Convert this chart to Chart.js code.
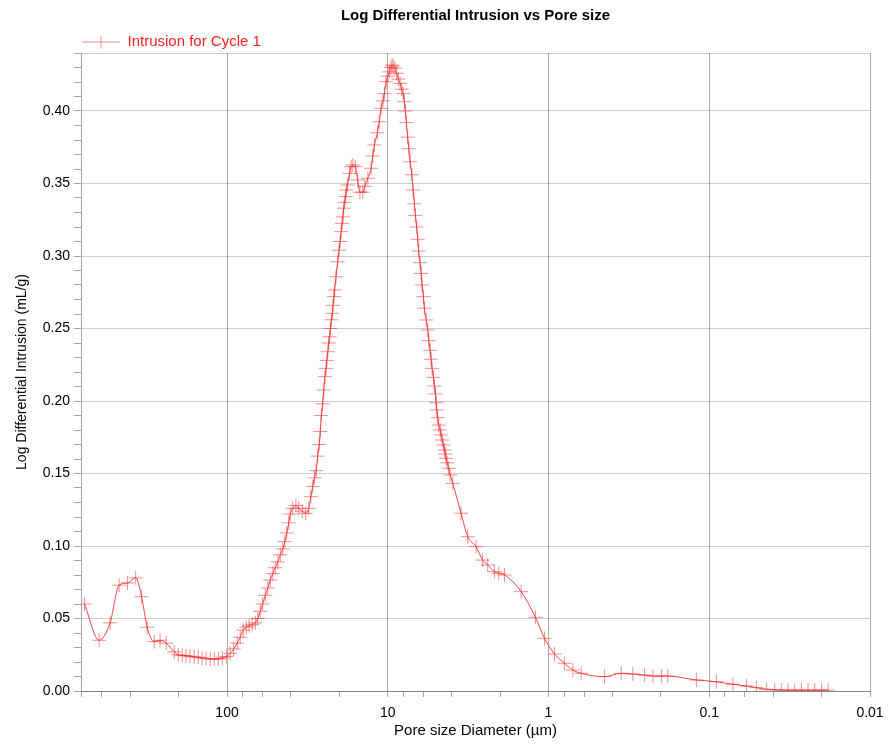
<!DOCTYPE html>
<html>
<head>
<meta charset="utf-8">
<script src="https://cdn.jsdelivr.net/npm/chart.js@4.4.1/dist/chart.umd.min.js"></script>
<style>
  html, body { margin: 0; padding: 0; background: #fff; }
  #wrap { width: 889px; height: 744px; }
</style>
</head>
<body>
<div id="wrap"><canvas id="chart"></canvas></div>
<script>
// pore size diameter (um), largest first
const poreDiameter = [
  770, 625, 534, 469, 416, 370, 340, 314, 284, 261, 239, 213, 201, 190, 180, 170, 160, 151, 143, 135,
  127, 120, 113, 107, 101, 95.5, 90.9, 86.4, 82.8, 79.3, 75.9, 72.8, 69.7, 66.7, 64.4, 62.1, 60.0, 57.8, 55.8, 53.8,
  51.9, 50.1, 48.3, 46.6, 45.0, 43.7, 42.5, 41.3, 40.4, 39.0, 37.3, 35.8, 34.0, 32.4, 31.0, 30.1, 29.3, 28.6, 27.9, 27.3,
  26.7, 26.3, 25.9, 25.4, 25.0, 24.6, 24.2, 23.9, 23.6, 23.3, 23.0, 22.7, 22.45, 22.1, 21.9, 21.65, 21.4, 21.0, 20.5, 20.1,
  19.8, 19.5, 19.25, 19.0, 18.8, 18.55, 18.3, 18.1, 17.8, 17.3, 16.9, 16.5, 15.9, 15.4, 14.9, 14.3, 13.9, 13.3, 12.7, 12.4,
  12.1, 11.6, 11.3, 11.0, 10.7, 10.5, 10.25, 9.99, 9.77, 9.56, 9.40, 9.23, 9.03, 8.80, 8.59, 8.38, 8.19, 8.03, 7.88, 7.77,
  7.66, 7.52, 7.39, 7.26, 7.08, 6.96, 6.83, 6.73, 6.61, 6.51, 6.42, 6.30, 6.20, 6.12, 6.00, 5.92, 5.77, 5.64, 5.56, 5.45,
  5.38, 5.30, 5.20, 5.13, 5.05, 5.00, 4.96, 4.89, 4.82, 4.72, 4.66, 4.59, 4.51, 4.44, 4.38, 4.34, 4.27, 4.18, 4.09, 3.94,
  3.50, 3.18, 2.82, 2.57, 2.39, 2.17, 2.04, 1.88, 1.48, 1.205, 1.059, 0.918, 0.795, 0.706, 0.626, 0.448, 0.353, 0.299, 0.2525, 0.224,
  0.1987, 0.181, 0.1203, 0.0903, 0.0712, 0.0587, 0.0509, 0.0441, 0.0392, 0.0356, 0.0324, 0.0294, 0.0267, 0.0243, 0.0221, 0.0200, 0.0182
]

// log differential intrusion (mL/g)
const logDiffIntrusion = [
  0.060, 0.035, 0.047, 0.073, 0.0745, 0.078, 0.065, 0.044, 0.034, 0.035, 0.033, 0.027, 0.025, 0.0245, 0.0242, 0.024, 0.0236, 0.0232, 0.0228, 0.0224,
  0.0221, 0.022, 0.0222, 0.0228, 0.0238, 0.026, 0.029, 0.033, 0.037, 0.042, 0.044, 0.045, 0.046, 0.047, 0.050, 0.055, 0.060, 0.066, 0.071, 0.0765,
  0.081, 0.085, 0.089, 0.094, 0.098, 0.103, 0.109, 0.116, 0.122, 0.126, 0.128, 0.126, 0.124, 0.1225, 0.126, 0.134, 0.141, 0.147, 0.152, 0.162,
  0.170, 0.179, 0.190, 0.198, 0.2076, 0.2168, 0.2225, 0.228, 0.234, 0.240, 0.2443, 0.250, 0.256, 0.2605, 0.266, 0.272, 0.2766, 0.2857, 0.296, 0.304,
  0.310, 0.3168, 0.3225, 0.327, 0.333, 0.337, 0.341, 0.3455, 0.349, 0.357, 0.3616, 0.3628, 0.3616, 0.3524, 0.344, 0.344, 0.348, 0.3536, 0.3605, 0.369,
  0.3766, 0.385, 0.3926, 0.4018, 0.407, 0.412, 0.4202, 0.424, 0.427, 0.430, 0.4317, 0.431, 0.4294, 0.426, 0.422, 0.419, 0.415, 0.412, 0.4064, 0.400,
  0.392, 0.382, 0.374, 0.365, 0.356, 0.3455, 0.336, 0.328, 0.320, 0.3115, 0.3034, 0.2954, 0.288, 0.280, 0.272, 0.264, 0.2559, 0.249, 0.2416, 0.235,
  0.2288, 0.2225, 0.2163, 0.2103, 0.2048, 0.1988, 0.1938, 0.1885, 0.1834, 0.180, 0.1766, 0.1731, 0.1697, 0.1662, 0.1634, 0.1605, 0.1574, 0.1536, 0.149, 0.1432,
  0.1226, 0.1064, 0.0995, 0.0903, 0.0869, 0.0823, 0.0812, 0.080, 0.0685, 0.0508, 0.0363, 0.0255, 0.0191, 0.0145, 0.0122, 0.0099, 0.0122, 0.0117, 0.011, 0.0103,
  0.0103, 0.0103, 0.0076, 0.0064, 0.0046, 0.0034, 0.0023, 0.0012, 0.0008, 0.0007, 0.0006, 0.0006, 0.0006, 0.0006, 0.0006, 0.0006, 0.0006
]

// x axis: labelled decades plus minor ticks at 2, 4, 6, 8
const xMajorTicks = [100, 10, 1, 0.1, 0.01]
const xMajorLabels = ['100', '10', '1', '0.1', '0.01']
const xMinorTicks = [
  0.02, 0.04, 0.06, 0.08, 0.2, 0.4, 0.6, 0.8, 2, 4, 6, 8,
  20, 40, 60, 80, 200, 400, 600, 800
]
const xMin = 0.01, xMax = 810
const yMax = 0.44, yStep = 0.01

Chart.defaults.font.family = '"Liberation Sans", Arial, sans-serif'
Chart.defaults.color = '#000'

const lineRed = 'rgba(238, 40, 40, 0.85)'
const crossRed = 'rgba(240, 50, 50, 0.55)'
const xGrid = 'rgba(0, 0, 0, 0.32)'
const yGrid = 'rgba(0, 0, 0, 0.2)'
const tickGrey = 'rgba(0, 0, 0, 0.35)'

const isMajorX = (v) => xMajorTicks.some(m => Math.abs(v / m - 1) < 1e-6)
const isMajorY = (v) => Math.round(v * 100) % 5 === 0 || Math.abs(v - yMax) < 1e-6

const points = poreDiameter.map((d, i) => ({ x: d, y: logDiffIntrusion[i] }))

const config = {
  type: 'line',
  data: {
    datasets: [{
      label: 'Intrusion for Cycle 1',
      data: points,
      borderColor: lineRed,
      borderWidth: 1,
      pointStyle: 'cross',
      pointRadius: 7,
      pointBorderColor: crossRed,
      pointBorderWidth: 1,
      pointBackgroundColor: crossRed,
      cubicInterpolationMode: 'monotone',
      fill: false,
    }]
  },
  options: {
    responsive: true,
    maintainAspectRatio: false,
    animation: false,
    events: [],
    layout: {
      padding: { left: 0, right: 19, top: 0, bottom: 0 }
    },
    plugins: {
      title: {
        display: true,
        fullSize: false,
        text: 'Log Differential Intrusion vs Pore size',
        color: '#000',
        font: { size: 15, weight: 'bold' },
        padding: { top: 7, bottom: 8.5 }
      },
      legend: {
        display: true,
        position: 'top',
        align: 'start',
        fullSize: false,
        maxHeight: 19.5,
        labels: {
          usePointStyle: true,
          pointStyle: 'cross',
          pointStyleWidth: 38,
          boxHeight: 9,
          padding: 1,
          color: 'rgb(255, 30, 30)',
          font: { size: 15 }
        }
      },
      tooltip: { enabled: false }
    },
    scales: {
      x: {
        type: 'logarithmic',
        reverse: true,
        min: xMin,
        max: xMax,
        afterBuildTicks: (scale) => {
          scale.ticks = xMajorTicks.concat(xMinorTicks).sort((a, b) => a - b).map(v => ({ value: v }))
        },
        afterFit: (scale) => { scale.height = 53 },
        ticks: {
          autoSkip: false,
          maxRotation: 0,
          padding: 8,
          font: { size: 14 },
          callback: (value) => {
            const i = xMajorTicks.findIndex(m => Math.abs(value / m - 1) < 1e-6)
            return i >= 0 ? xMajorLabels[i] : ''
          }
        },
        grid: {
          color: (ctx) => ctx.tick && isMajorX(ctx.tick.value) ? xGrid : 'rgba(0,0,0,0)',
          tickColor: tickGrey,
          tickLength: 6,
          lineWidth: 1
        },
        border: { display: true, color: tickGrey },
        title: {
          display: true,
          text: 'Pore size Diameter (µm)',
          font: { size: 15 },
          padding: { top: 2, bottom: 4 }
        }
      },
      y: {
        type: 'linear',
        min: 0,
        max: yMax,
        afterFit: (scale) => { scale.width = 81 },
        ticks: {
          stepSize: yStep,
          autoSkip: false,
          padding: 4,
          font: { size: 14 },
          callback: (value) => Math.round(value * 100) % 5 === 0 ? value.toFixed(2) : ''
        },
        grid: {
          color: (ctx) => ctx.tick && isMajorY(ctx.tick.value) ? yGrid : 'rgba(0,0,0,0)',
          tickColor: tickGrey,
          tickLength: 7,
          lineWidth: 1
        },
        border: { display: true, color: tickGrey },
        title: {
          display: true,
          text: 'Log Differential Intrusion (mL/g)',
          font: { size: 14 },
          padding: { top: 13.5, bottom: 0 }
        }
      }
    }
  }
}

let chart = new Chart(document.getElementById('chart'), config)
</script>
</body>
</html>
